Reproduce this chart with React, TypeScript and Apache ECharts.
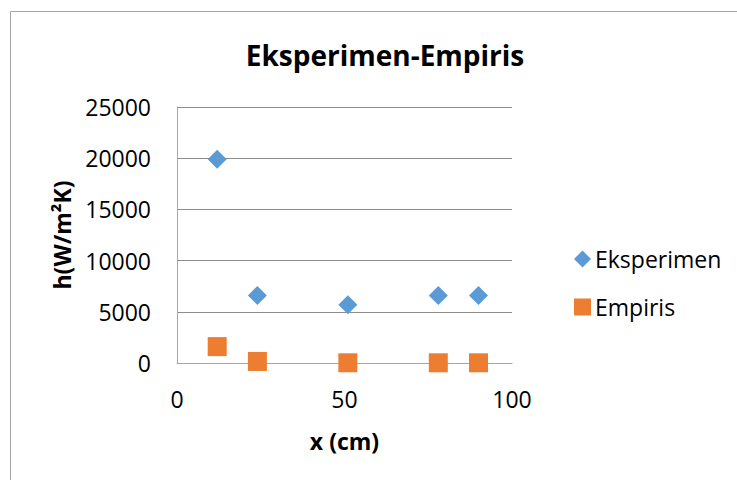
import React, { useEffect, useRef } from "react";
import * as echarts from "echarts";

const titleText = "Eksperimen-Empiris";
const xAxisName = "x (cm)";
const yAxisName = "h(W/m²K)";
const seriesNames = ["Eksperimen", "Empiris"];
const xValues = [12, 24, 51, 78, 90];
const eksperimen = [19900, 6600, 5700, 6600, 6600];
const empiris = [1600, 150, 20, 20, 20];

const FONT = "'Open Sans', 'Liberation Sans', sans-serif";

export default function App() {
  const ref = useRef<HTMLDivElement>(null);
  useEffect(() => {
    document.body.style.margin = "0";
    const chart = echarts.init(ref.current!, null, { renderer: "svg" });
    chart.setOption({
      animation: false,
      backgroundColor: "#ffffff",
      textStyle: { fontFamily: FONT },
      title: {
        text: titleText,
        left: 380,
        top: 36,
        textAlign: "center",
        textStyle: { fontFamily: FONT, fontSize: 28, fontWeight: "bold", color: "#000" },
      },
      graphic: [
        {
          type: "rect",
          shape: { x: 10.5, y: 11.5, width: 900, height: 700 },
          style: { fill: "none", stroke: "#a6a6a6", lineWidth: 1 },
          silent: true,
        },
      ],
      legend: {
        orient: "vertical",
        left: 574,
        top: 247,
        itemGap: 24,
        itemWidth: 17,
        itemHeight: 17,
        padding: 0,
        textStyle: { fontFamily: FONT, fontSize: 23, lineHeight: 24, color: "#000", padding: [0, 0, 0, -1] },
        data: [
          { name: seriesNames[0], icon: "diamond" },
          { name: seriesNames[1], icon: "rect" },
        ],
      },
      grid: { left: 177, top: 107, right: 225, bottom: 117 },
      xAxis: {
        type: "value",
        min: 0,
        max: 100,
        interval: 50,
        name: xAxisName,
        nameLocation: "middle",
        nameGap: 66,
        nameTextStyle: { fontFamily: FONT, fontSize: 23, fontWeight: "bold", color: "#000" },
        axisLine: { show: true, lineStyle: { color: "#a6a6a6", width: 1 } },
        axisTick: { show: false },
        splitLine: { show: false },
        axisLabel: { margin: 24, fontFamily: FONT, fontSize: 23, color: "#000" },
      },
      yAxis: {
        type: "value",
        min: 0,
        max: 25000,
        interval: 5000,
        name: yAxisName,
        nameLocation: "middle",
        nameGap: 104,
        nameTextStyle: { fontFamily: FONT, fontSize: 23, fontWeight: "bold", color: "#000" },
        axisLine: { show: true, lineStyle: { color: "#a6a6a6", width: 1 } },
        axisTick: { show: false },
        splitLine: { show: true, lineStyle: { color: "#8c8c8c", width: 1 } },
        axisLabel: {
          margin: 26,
          fontFamily: FONT,
          fontSize: 23,
          color: "#000",
          formatter: (v: number) => String(v),
        },
      },
      series: [
        {
          name: seriesNames[0],
          type: "scatter",
          symbol: "diamond",
          symbolSize: 19,
          itemStyle: { color: "#5b9bd5", opacity: 1 },
          data: xValues.map((x, i) => [x, eksperimen[i]]),
        },
        {
          name: seriesNames[1],
          type: "scatter",
          symbol: "rect",
          symbolSize: 19,
          itemStyle: { color: "#ed7d31", opacity: 1 },
          data: xValues.map((x, i) => [x, empiris[i]]),
        },
      ],
    });
    return () => chart.dispose();
  }, []);
  return <div ref={ref} style={{ width: 737, height: 480 }} />;
}
